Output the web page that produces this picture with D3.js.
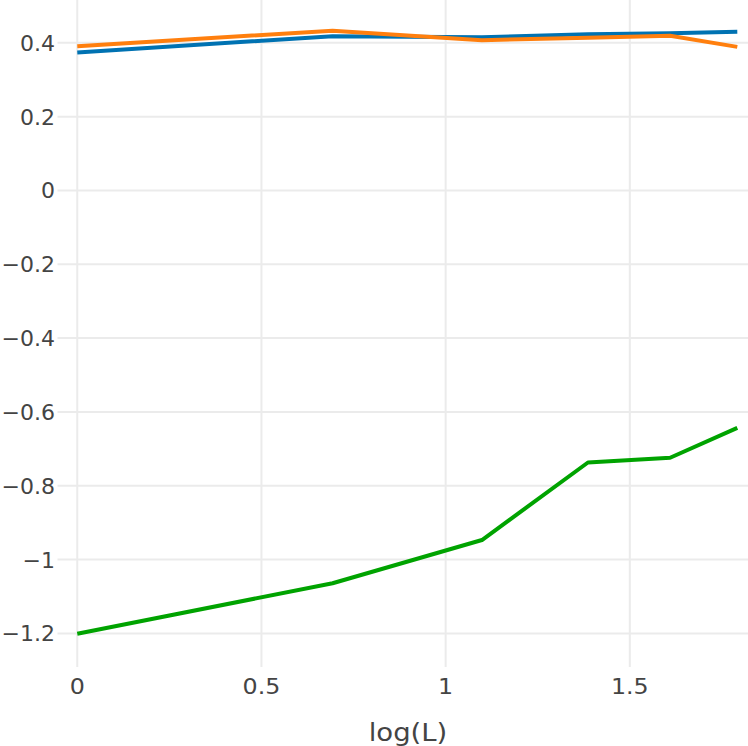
<!DOCTYPE html>
<html>
<head>
<meta charset="utf-8">
<script src="https://cdn.jsdelivr.net/npm/d3@7"></script>
<style>
  html, body { margin: 0; padding: 0; background: #fff; }
  svg { display: block; }
</style>
</head>
<body>
<svg id="chart" width="748" height="746"></svg>
<script>
// ---- data ----
const xValues = [0, 0.6931, 1.0986, 1.3863, 1.6094, 1.7918]; // log(L), L = 1..6
const seriesBlue   = [0.374, 0.418, 0.415, 0.423, 0.426, 0.430];
const seriesOrange = [0.391, 0.433, 0.407, 0.414, 0.419, 0.389];
const seriesGreen  = [-1.201, -1.064, -0.947, -0.737, -0.724, -0.643];
const xTicks = [0, 0.5, 1, 1.5];
const yTicks = [0.4, 0.2, 0, -0.2, -0.4, -0.6, -0.8, -1, -1.2];
const xTitle = "log(L)";

const series = [
  { name: "blue",   values: seriesBlue,   color: "#0072B2" },
  { name: "orange", values: seriesOrange, color: "#FF7F0E" },
  { name: "green",  values: seriesGreen,  color: "#00A300" }
];

// ---- layout ----
const plotLeft = 57.5, plotRight = 758, plotTop = 0, plotBottom = 667;
const svg = d3.select("#chart");

const x = d3.scaleLinear().domain([-0.0537, 1.848]).range([plotLeft, plotRight]);
const y = d3.scaleLinear().domain([-1.291, 0.516]).range([plotBottom, plotTop]);

const fontFamily = "'DejaVu Sans', Verdana, sans-serif";
const fmt = v => (v < 0 ? "\u2212" : "") + String(Math.abs(v));

svg.append("defs").append("clipPath").attr("id", "clip")
  .append("rect").attr("x", plotLeft).attr("y", plotTop)
  .attr("width", plotRight - plotLeft).attr("height", plotBottom - plotTop);

// grid
const grid = svg.append("g");
grid.selectAll("line.v").data(xTicks).enter().append("line")
  .attr("x1", d => x(d)).attr("x2", d => x(d))
  .attr("y1", plotTop).attr("y2", plotBottom)
  .attr("stroke", "#ebebeb").attr("stroke-width", 2);
grid.selectAll("line.h").data(yTicks).enter().append("line")
  .attr("x1", plotLeft).attr("x2", plotRight)
  .attr("y1", d => y(d)).attr("y2", d => y(d))
  .attr("stroke", "#ebebeb").attr("stroke-width", 2);

// y tick labels
svg.append("g").selectAll("text").data(yTicks).enter().append("text")
  .attr("transform", d => `translate(55,${y(d) + 8})`)
  .attr("text-anchor", "end")
  .attr("font-family", fontFamily).attr("font-size", 22).attr("fill", "#444")
  .text(fmt);

// x tick labels
svg.append("g").selectAll("text").data(xTicks).enter().append("text")
  .attr("transform", d => `translate(${x(d)},694) scale(1.08,1)`)
  .attr("text-anchor", "middle")
  .attr("font-family", fontFamily).attr("font-size", 22).attr("fill", "#444")
  .text(fmt);

// x title
svg.append("text")
  .attr("transform", `translate(408,741) scale(1.1,1)`)
  .attr("text-anchor", "middle")
  .attr("font-family", fontFamily).attr("font-size", 25).attr("fill", "#444")
  .text(xTitle);

// lines
const line = d3.line().x((d, i) => x(xValues[i])).y(d => y(d));
svg.append("g").attr("clip-path", "url(#clip)")
  .selectAll("path").data(series).enter().append("path")
  .attr("d", d => line(d.values))
  .attr("fill", "none")
  .attr("stroke", d => d.color)
  .attr("stroke-width", 4)
  .attr("stroke-linejoin", "round");
</script>
</body>
</html>
